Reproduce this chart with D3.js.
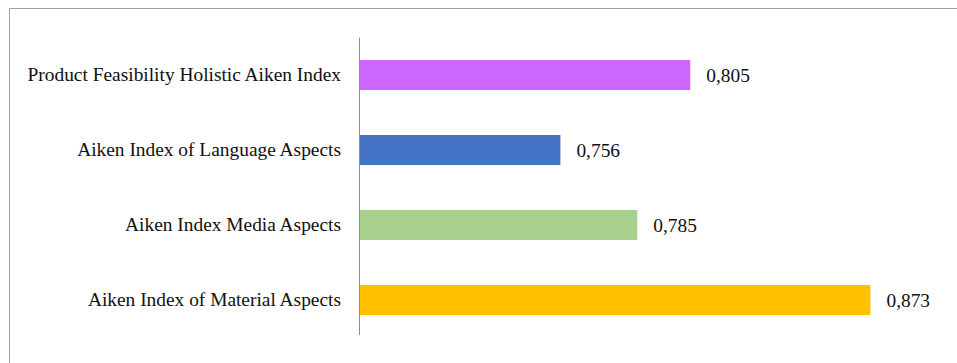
<!DOCTYPE html>
<html>
<head>
<meta charset="utf-8">
<script src="https://cdn.jsdelivr.net/npm/d3@7"></script>
<style>
  body { margin: 0; background: #fff; }
  text { font-family: "Liberation Serif", "Times New Roman", serif; fill: #111; }
</style>
</head>
<body>
<div id="chart"></div>
<script>
// data
var categories = [
  "Product Feasibility Holistic Aiken Index",
  "Aiken Index of Language Aspects",
  "Aiken Index Media Aspects",
  "Aiken Index of Material Aspects"
];
var values = [0.805, 0.756, 0.785, 0.873];
var labels = ["0,805", "0,756", "0,785", "0,873"];
var colors = ["#cc66ff", "#4472c4", "#a9d18e", "#ffc000"];

var W = 957, H = 363;

var svg = d3.select("#chart")
  .append("svg")
    .attr("width", W)
    .attr("height", H);

// frame (only top and left edges show in the crop)
svg.append("path")
  .attr("d", "M9.5," + H + "V8.5H" + W)
  .attr("fill", "none")
  .attr("stroke", "#a0a0a0")
  .attr("stroke-width", 1);

var x = d3.scaleLinear()
  .domain([0.68, 0.9])
  .range([359, 942]);

var y = d3.scaleBand()
  .domain(categories)
  .range([37.5, 337.5])
  .paddingInner(0.6)
  .paddingOuter(0.3);

// bars
svg.selectAll(".bar")
  .data(values)
  .enter()
  .append("rect")
    .attr("class", "bar")
    .attr("x", x(0.68))
    .attr("y", function(d, i) { return y(categories[i]); })
    .attr("width", function(d) { return x(d) - x(0.68); })
    .attr("height", y.bandwidth())
    .attr("fill", function(d, i) { return colors[i]; });

// category axis
var yAxis = svg.append("g")
  .attr("transform", "translate(" + x(0.68) + ",0)")
  .call(d3.axisLeft(y).tickSize(0).tickPadding(18).tickSizeOuter(0));
yAxis.select(".domain").attr("stroke", "#8c8c8c").attr("d", "M0.5,37.5V335");
yAxis.selectAll(".tick text")
  .style("font-size", "19.4px")
  .style("font-family", "'Liberation Serif', serif")
  .attr("fill", "#111");

// value labels
svg.selectAll(".val")
  .data(values)
  .enter()
  .append("text")
    .attr("class", "val")
    .attr("x", function(d) { return x(d) + 16; })
    .attr("y", function(d, i) { return y(categories[i]) + y.bandwidth() / 2; })
    .attr("dy", "0.35em")
    .style("font-size", "19.4px")
    .text(function(d, i) { return labels[i]; });
</script>
</body>
</html>
